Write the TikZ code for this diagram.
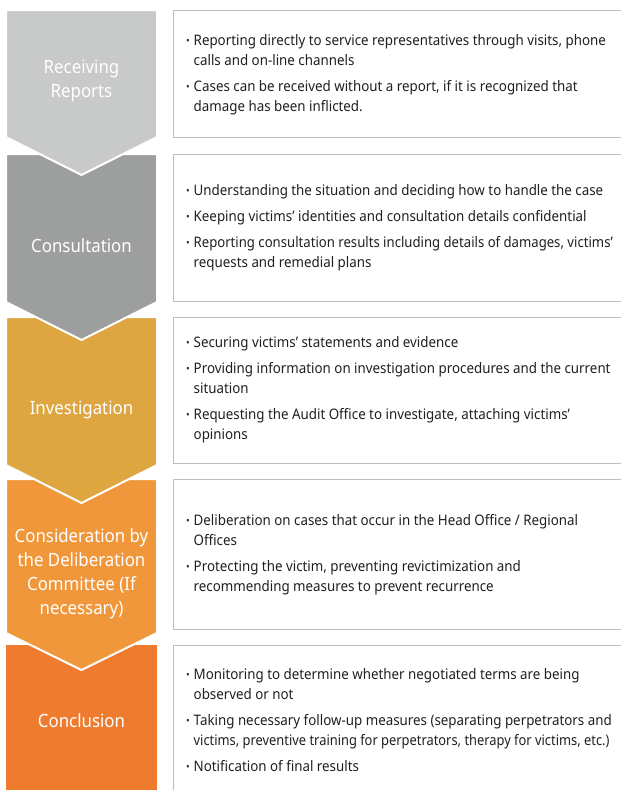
\documentclass[tikz,border=0pt]{standalone}
\usepackage{fontspec}
\usepackage{graphicx}
\setmainfont[FakeStretch=0.92]{Noto Sans}
\definecolor{c1}{HTML}{C8C9C9}
\definecolor{c2}{HTML}{9D9E9E}
\definecolor{c3}{HTML}{DDA640}
\definecolor{c4}{HTML}{F0973B}
\definecolor{c5}{HTML}{EE7B2E}
\definecolor{boxline}{HTML}{BDBDBD}
\definecolor{txt}{HTML}{231F20}
\newcommand{\bl}{\makebox[7.5pt][l]{\raisebox{1.2pt}{\fontsize{10.5}{10}\selectfont •}}}
\newcommand{\ind}{\hspace*{7.5pt}}
\tikzset{
  chev/.style={draw=white, line width=2pt, line join=miter},
  steplabel/.style={text=white, align=center, font=\fontsize{18.3}{24}\selectfont, inner sep=0pt},
  infobox/.style={draw=boxline, line width=1pt, fill=white},
  infotext/.style={text=txt, align=left, anchor=west, font=\fontsize{14.5}{20}\selectfont, inner sep=0pt}
}
\begin{document}
\begin{tikzpicture}[x=1pt,y=-1pt]
\useasboundingbox (0,0) rectangle (621,790);
% chevrons, bottom first
\fill[c5] (6,645) rectangle (157,792);
\filldraw[chev, fill=c4] (6,479) -- (157,479) -- (157,633) -- (81.5,670) -- (6,633) -- cycle;
\filldraw[chev, fill=c3] (6,317) -- (157,317) -- (157,465) -- (81.5,503) -- (6,465) -- cycle;
\filldraw[chev, fill=c2] (6,154) -- (157,154) -- (157,302) -- (81.5,340) -- (6,302) -- cycle;
\filldraw[chev, fill=c1] (6,10) -- (157,10) -- (157,137) -- (81.5,175) -- (6,137) -- cycle;
\node[steplabel] (l1) at (81.5,81) {Receiving\\Reports};
\node[steplabel] (l2) at (81.5,246) {Consultation};
\node[steplabel] (l3) at (81.5,410) {Investigation};
\node[steplabel] (l4) at (81.5,574) {Consideration by\\the Deliberation\\Committee (If\\necessary)};
\node[steplabel] (l5) at (81.5,721) {Conclusion};
% boxes
\draw[infobox] (173.5,10.5) rectangle (630,137.5);
\draw[infobox] (173.5,154.5) rectangle (630,301.5);
\draw[infobox] (173.5,317.5) rectangle (630,463.5);
\draw[infobox] (173.5,479.5) rectangle (630,629.5);
\draw[infobox] (173.5,645.5) rectangle (630,800);
\node[infotext] (t1) at (186,75) {\bl Reporting directly to service representatives through visits, phone\\
\ind calls and on-line channels\\[6pt]
\bl Cases can be received without a report, if it is recognized that\\
\ind damage has been inflicted.};
\node[infotext] (t2) at (186,228) {\bl Understanding the situation and deciding how to handle the case\\[6pt]
\bl Keeping victims’ identities and consultation details confidential\\[6pt]
\bl \scalebox{0.985}[1]{Reporting consultation results including details of damages, victims’}\\
\ind requests and remedial plans};
\node[infotext] (t3) at (186,390) {\bl Securing victims’ statements and evidence\\[6pt]
\bl Providing information on investigation procedures and the current\\
\ind situation\\[6pt]
\bl Requesting the Audit Office to investigate, attaching victims’\\
\ind opinions};
\node[infotext] (t4) at (186,555) {\bl Deliberation on cases that occur in the Head Office / Regional\\
\ind Offices\\[6pt]
\bl Protecting the victim, preventing revictimization and\\
\ind recommending measures to prevent recurrence};
\node[infotext] (t5) at (186,720) {\bl Monitoring to determine whether negotiated terms are being\\
\ind observed or not\\[6pt]
\bl Taking necessary follow-up measures (separating perpetrators and\\
\ind \scalebox{0.965}[1]{victims, preventive training for perpetrators, therapy for victims, etc.)}\\[6pt]
\bl Notification of final results};
\end{tikzpicture}
\end{document}
